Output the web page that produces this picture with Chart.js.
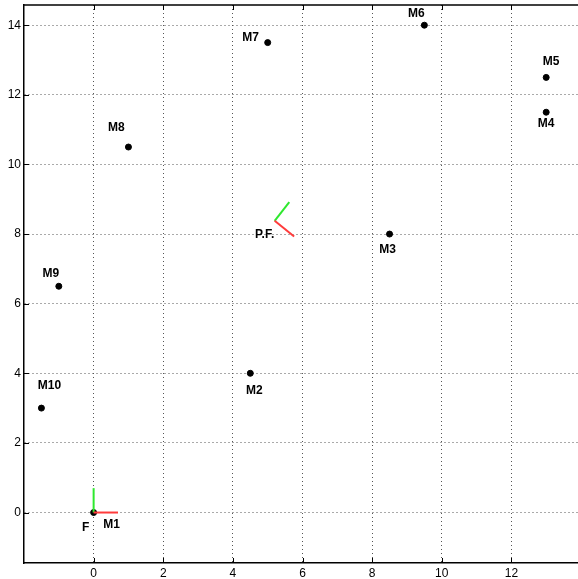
<!DOCTYPE html>
<html>
<head>
<meta charset="utf-8">
<script src="https://cdn.jsdelivr.net/npm/chart.js@4.4.1/dist/chart.umd.min.js"></script>
<style>
  html, body { margin: 0; padding: 0; background: #fff; overflow: hidden; }
  #wrap { width: 600px; height: 579px; }
</style>
</head>
<body>
<div id="wrap"><canvas id="plot" width="600" height="579"></canvas></div>
<script>
// Marker positions
var markerNames = ['F', 'M2', 'M3', 'M4', 'M5', 'M6', 'M7', 'M8', 'M9', 'M10'];
var markerX = [0, 4.5, 8.5, 13, 13, 9.5, 5, 1, -1, -1.5];
var markerY = [0, 4, 8, 11.5, 12.5, 14, 13.5, 10.5, 6.5, 3];

// Coordinate frames: origin, end of red (x) axis, end of green (y) axis
var frameNames = ['F', 'P.F.'];
var frameOriginX = [0, 5.2];
var frameOriginY = [0, 8.38];
var frameRedX = [0.7, 5.76];
var frameRedY = [0, 7.93];
var frameGreenX = [0, 5.62];
var frameGreenY = [0.7, 8.92];

// Axis ticks
var xTicks = [0, 2, 4, 6, 8, 10, 12];
var yTicks = [0, 2, 4, 6, 8, 10, 12, 14];

// label offsets in pixels from the point
var labelOffsets = {
  'F': [-8, 15], 'M1': [18, 12], 'M2': [4, 17], 'M3': [-2, 16], 'M4': [0, 11],
  'M5': [5, -16], 'M6': [-8, -12], 'M7': [-17, -5], 'M8': [-12, -19],
  'M9': [-8, -13], 'M10': [8, -22], 'P.F.': [-10, 14]
};

var datasets = [];
for (var i = 0; i < frameNames.length; i++) {
  datasets.push({
    type: 'line',
    data: [{x: frameOriginX[i], y: frameOriginY[i]}, {x: frameRedX[i], y: frameRedY[i]}],
    borderColor: '#ff3b3b', borderWidth: 2, pointRadius: 0, showLine: true
  });
  datasets.push({
    type: 'line',
    data: [{x: frameOriginX[i], y: frameOriginY[i]}, {x: frameGreenX[i], y: frameGreenY[i]}],
    borderColor: '#2ee82e', borderWidth: 2, pointRadius: 0, showLine: true
  });
}
datasets.push({
  type: 'scatter',
  data: markerX.map(function (x, i) { return {x: x, y: markerY[i]}; }),
  backgroundColor: '#000', borderColor: '#000', pointRadius: 3, pointHoverRadius: 3
});

var font = {family: 'Liberation Sans, Arial, sans-serif', size: 12};

// point labels + MATLAB style inward ticks and top border
var extras = {
  id: 'extras',
  afterDatasetsDraw: function (chart) {
    var ctx = chart.ctx, xs = chart.scales.x, ys = chart.scales.y, a = chart.chartArea;
    ctx.save();
    ctx.strokeStyle = '#000';
    ctx.lineWidth = 1;
    ctx.beginPath();
    xTicks.forEach(function (v) {
      var px = Math.round(xs.getPixelForValue(v)) + 0.5;
      ctx.moveTo(px, a.bottom); ctx.lineTo(px, a.bottom - 5);
      ctx.moveTo(px, a.top); ctx.lineTo(px, a.top + 5);
    });
    yTicks.forEach(function (v) {
      var py = Math.round(ys.getPixelForValue(v)) + 0.5;
      ctx.moveTo(a.left, py); ctx.lineTo(a.left + 5, py);
    });
    ctx.stroke();
    ctx.lineWidth = 1.5;
    ctx.beginPath();
    ctx.moveTo(a.left, a.top); ctx.lineTo(a.right, a.top);
    ctx.stroke();

    ctx.fillStyle = '#000';
    ctx.font = 'bold 12px Liberation Sans, Arial, sans-serif';
    ctx.textAlign = 'center';
    ctx.textBaseline = 'middle';
    function put(name, x, y) {
      var o = labelOffsets[name] || [0, -12];
      ctx.fillText(name, xs.getPixelForValue(x) + o[0], ys.getPixelForValue(y) + o[1]);
    }
    markerNames.forEach(function (n, i) { put(n, markerX[i], markerY[i]); });
    put('M1', frameOriginX[0], frameOriginY[0]);
    put('P.F.', frameOriginX[1], frameOriginY[1]);
    ctx.restore();
  }
};

new Chart(document.getElementById('plot'), {
  type: 'scatter',
  data: {datasets: datasets},
  plugins: [extras],
  options: {
    responsive: false,
    animation: false,
    layout: {padding: {top: 5, right: 19, left: 0, bottom: 0}},
    plugins: {legend: {display: false}, tooltip: {enabled: false}},
    scales: {
      x: {
        type: 'linear', min: -2, max: 14,
        afterBuildTicks: function (s) { s.ticks = xTicks.map(function (v) { return {value: v}; }); },
        afterFit: function (s) { s.height = 16; s.paddingRight = 0; s.paddingLeft = 0; },
        grid: {color: '#555', drawTicks: false, lineWidth: 1},
        border: {display: true, color: '#000', width: 1.5, dash: [1, 3]},
        ticks: {color: '#000', font: font, padding: 3, maxRotation: 0, autoSkip: false}
      },
      y: {
        type: 'linear', min: -1.45, max: 14.58,
        afterBuildTicks: function (s) { s.ticks = yTicks.map(function (v) { return {value: v}; }); },
        afterFit: function (s) { s.width = 24; s.paddingTop = 0; s.paddingBottom = 0; },
        grid: {color: '#555', drawTicks: false, lineWidth: 1},
        border: {display: true, color: '#000', width: 1.5, dash: [1, 3]},
        ticks: {color: '#000', font: font, padding: 3, autoSkip: false}
      }
    }
  }
});
</script>
</body>
</html>
